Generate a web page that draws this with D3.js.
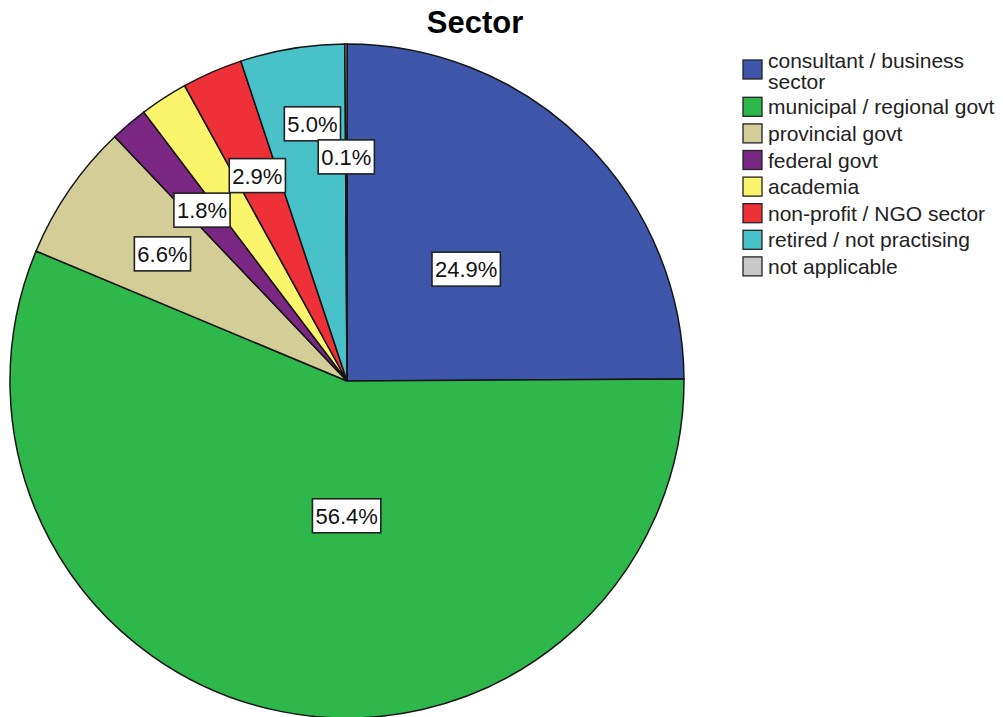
<!DOCTYPE html>
<html>
<head>
<meta charset="utf-8">
<script src="https://cdn.jsdelivr.net/npm/d3@7"></script>
<style>
  body { margin: 0; background: #fff; }
  svg { font-family: 'Liberation Sans', Arial, sans-serif; }
</style>
</head>
<body>
<svg class="chart"></svg>
<script>
// Data, clockwise from 12 o'clock
const categories = [
  'consultant / business sector',
  'municipal / regional govt',
  'provincial govt',
  'federal govt',
  'academia',
  'non-profit / NGO sector',
  'retired / not practising',
  'not applicable'
];
const percents = [24.9, 56.4, 6.6, 1.8, 2.3, 2.9, 5.0, 0.1];
// academia label is not shown in the picture
const shownLabels = [true, true, true, true, false, true, true, true];
const colors = ['#3d56a9', '#2eb84b', '#d3ce98', '#7a2884', '#fbf56c', '#ee3039', '#48c1c8', '#c8c8c8'];

const width = 1003;
const height = 717;
const cx = 347, cy = 381, radius = 337;

// label position tweaks: [radius fraction, angle offset in degrees]
const labelPlace = {
  0: [0.485, 2],
  1: [0.40, -11],
  6: [0.77, 1.7]
};
const defaultPlace = [0.665, 0];

const svg = d3.select('.chart').attr('width', width).attr('height', height);

// title
svg.append('text')
  .attr('x', 475)
  .attr('y', 33)
  .attr('text-anchor', 'middle')
  .style('font-size', '31px')
  .style('font-weight', 'bold')
  .text('Sector');

const pie = d3.pie().sort(null).value((d) => d)(percents);
const arc = d3.arc().innerRadius(0).outerRadius(radius);

const g = svg.append('g').attr('transform', `translate(${cx},${cy})`);

g.selectAll('.slice')
  .data(pie)
  .enter()
  .append('path')
  .classed('slice', true)
  .attr('d', arc)
  .attr('fill', (d, i) => colors[i])
  .attr('stroke', '#151515')
  .attr('stroke-width', 1.5);

// labels with white boxes
const labels = g.selectAll('.lbl')
  .data(pie.filter((d, i) => shownLabels[i]).map((d) => ({ d, i: pie.indexOf(d) })))
  .enter()
  .append('g')
  .classed('lbl', true)
  .attr('transform', ({ d, i }) => {
    const place = labelPlace[i] || defaultPlace;
    const a = (d.startAngle + d.endAngle) / 2 + (place[1] * Math.PI) / 180;
    const r = radius * place[0];
    return `translate(${r * Math.sin(a)},${-r * Math.cos(a)})`;
  });

labels.append('text')
  .attr('text-anchor', 'middle')
  .attr('y', 8)
  .style('font-size', '22px')
  .attr('fill', '#111')
  .text(({ d }) => d.data.toFixed(1) + '%');

labels.each(function () {
  const grp = d3.select(this);
  const bb = grp.select('text').node().getBBox();
  grp.insert('rect', 'text')
    .attr('x', bb.x - 3)
    .attr('y', -17)
    .attr('width', bb.width + 6)
    .attr('height', 34)
    .attr('fill', '#fff')
    .attr('stroke', '#222')
    .attr('stroke-width', 1.6);
});

// legend
const legendX = 743;
let ly = 60;
const legendLines = categories.map((c, i) => (i === 0 ? ['consultant / business', 'sector'] : [c]));
const legend = svg.append('g').classed('legend', true);
legendLines.forEach((lines, i) => {
  const item = legend.append('g').attr('transform', `translate(${legendX},${ly})`);
  item.append('rect')
    .attr('x', 0)
    .attr('y', 0)
    .attr('width', 19)
    .attr('height', 19)
    .attr('fill', colors[i])
    .attr('stroke', '#222')
    .attr('stroke-width', 1.3);
  const first = lines.length > 1 ? 8 : 17;
  lines.forEach((t, k) => {
    item.append('text')
      .attr('x', 25)
      .attr('y', first + k * 21)
      .style('font-size', '21px')
      .attr('fill', '#222')
      .text(t);
  });
  ly += lines.length > 1 ? 37.3 : 26.6;
});
</script>
</body>
</html>
